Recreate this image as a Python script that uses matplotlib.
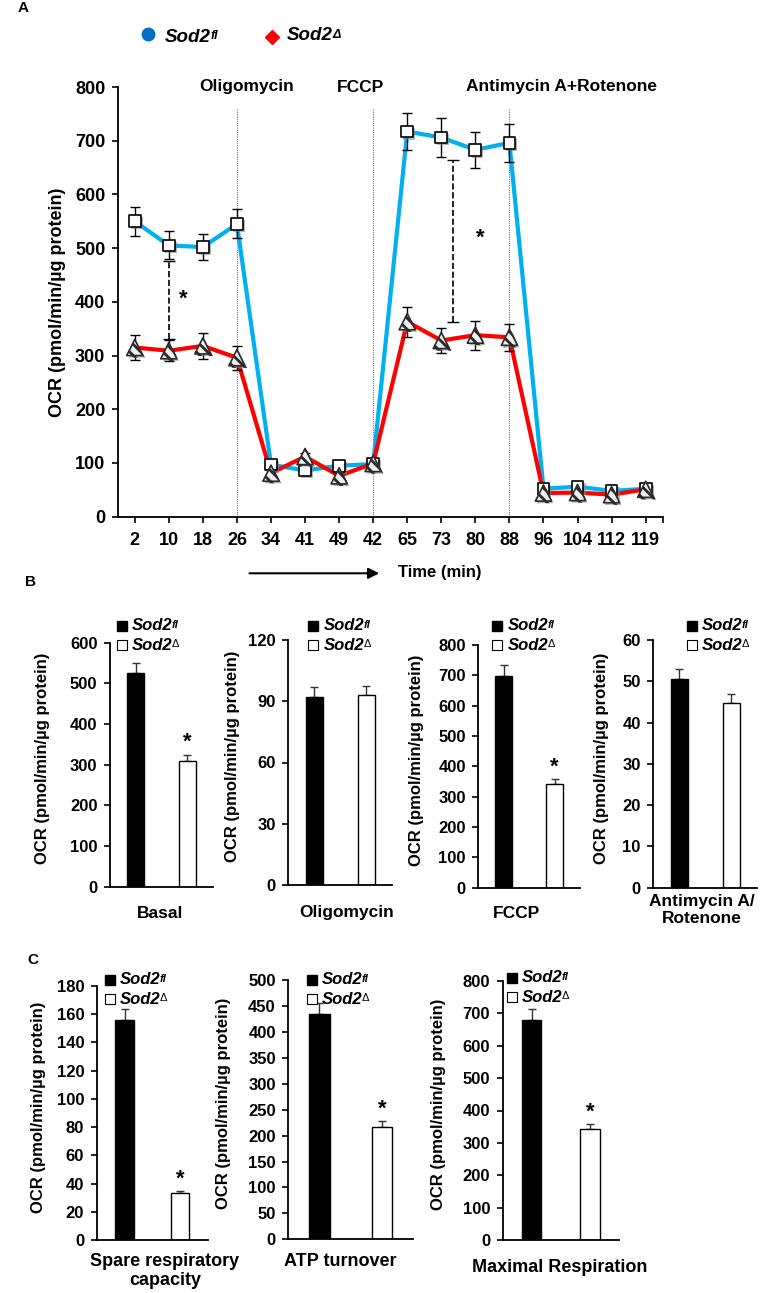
import numpy as np
import matplotlib
matplotlib.use("Agg")
import matplotlib.pyplot as plt
import matplotlib.patheffects as pe

plt.rcParams["font.family"] = ["Liberation Sans", "DejaVu Sans"]
plt.rcParams["font.weight"] = "bold"
plt.rcParams["hatch.linewidth"] = 2.0

# ---- data: panel A (OCR time course) ----
time_labels = ["2", "10", "18", "26", "34", "41", "49", "42",
               "65", "73", "80", "88", "96", "104", "112", "119"]
fl_mean = [550, 505, 502, 545, 97, 86, 95, 98, 717, 706, 683, 696, 52, 56, 48, 52]
fl_err = [27, 26, 25, 27, 8, 7, 6, 6, 35, 36, 33, 35, 5, 5, 4, 4]
d_mean = [315, 309, 318, 296, 81, 112, 76, 99, 363, 328, 338, 334, 44, 45, 41, 51]
d_err = [23, 20, 24, 22, 6, 7, 5, 5, 28, 24, 27, 25, 4, 4, 4, 4]
injection_idx = [3, 7, 11]
injection_names = ["Oligomycin", "FCCP", "Antimycin A+Rotenone"]
sig_x = [1, 9.35]
sig_lo = [331, 362]
sig_hi = [476, 664]
star_x = [1.43, 10.14]
star_y = [404, 519]

# ---- data: panels B and C (bars: Sod2fl, Sod2delta) ----
basal = [526, 310];         basal_err = [25, 15]
oligo = [92.2, 93.0];       oligo_err = [4.6, 4.5]
fccp = [699, 342];          fccp_err = [35, 16]
aarot = [50.5, 44.7];       aarot_err = [2.5, 2.2]
spare = [155.9, 33.1];      spare_err = [7.6, 1.6]
atp = [434, 217];           atp_err = [21, 10.5]
maximal = [680, 342];       maximal_err = [34, 16]

W, H = 777, 1293
fig = plt.figure(figsize=(W / 100, H / 100), dpi=100)


def add_axes_px(l, t, r, b):
    return fig.add_axes([l / W, 1 - b / H, (r - l) / W, (b - t) / H])


def style_axes(ax, labelsize):
    for s in ["top", "right"]:
        ax.spines[s].set_visible(False)
    for s in ["left", "bottom"]:
        ax.spines[s].set_linewidth(1.3)
    ax.tick_params(direction="out", length=4, width=1.2, labelsize=labelsize, pad=5)


# ---- panel A ----
ax = add_axes_px(117.7, 87, 662.7, 516.7)
x = np.arange(len(time_labels))
shadow = [pe.SimplePatchShadow(offset=(1.5, -1.5), shadow_rgbFace="#888888", alpha=0.6), pe.Normal()]
ax.plot(x, fl_mean, color="#00B0F0", lw=3, zorder=2)
ax.plot(x, d_mean, color="#FF0000", lw=3, zorder=3)
ax.errorbar(x, fl_mean, yerr=fl_err, fmt="none", ecolor="black", elinewidth=1, capsize=3.5, zorder=4)
ax.errorbar(x, d_mean, yerr=d_err, fmt="none", ecolor="black", elinewidth=1, capsize=3.5, zorder=4)
ax.scatter(x, fl_mean, marker="s", s=72, facecolor="white", edgecolor="black",
           linewidth=1.2, zorder=5, path_effects=shadow)
ax.scatter(x, d_mean, marker="^", s=135, facecolor="#eeeeee", edgecolor="#2a2a2a",
           hatch="\\\\\\", linewidth=1.2, zorder=6, path_effects=shadow)
ax.vlines(injection_idx, 0, 760, color="#777777", lw=0.8, linestyle=(0, (1, 1)), zorder=1)
for xs, lo, hi in zip(sig_x, sig_lo, sig_hi):
    eb = ax.errorbar([xs], [(lo + hi) / 2], yerr=[(hi - lo) / 2], fmt="none",
                     ecolor="black", elinewidth=1.2, capsize=4, zorder=4)
    eb[2][0].set_linestyle("--")
for sx, sy in zip(star_x, star_y):
    ax.text(sx, sy, "*", fontsize=16, ha="center", va="center")
ax.set_xlim(-0.5, len(time_labels) - 0.5)
ax.set_ylim(0, 800)
ax.set_yticks(range(0, 801, 100))
ax.set_xticks(x)
ax.set_xticklabels(time_labels)
ax.set_xticks([len(time_labels) - 0.5], minor=True)
style_axes(ax, 13)
ax.tick_params(axis="x", which="both", length=4, width=1.2, pad=7)

# overlay for free text, drawn above every panel
ax0 = fig.add_axes([0, 0, 1, 1])
ax0.set_xlim(0, W)
ax0.set_ylim(H, 0)
ax0.axis("off")
ax0.set_zorder(10)


def sod2(xp, yp, sup, size, sup_size, sup_style="italic", sup_weight="bold"):
    t = ax0.text(xp, yp, "Sod2", fontsize=size, fontstyle="italic", va="center", ha="left")
    ax0.annotate(sup, xy=(1, 1), xycoords=t, xytext=(-0.5, -1), textcoords="offset points",
                 fontsize=sup_size, fontstyle=sup_style, fontweight=sup_weight, va="top", ha="left")


ax0.text(23, 8, "A", fontsize=11, ha="center", va="center")
ax0.text(30, 582, "B", fontsize=11, ha="center", va="center")
ax0.text(33, 960, "C", fontsize=11, ha="center", va="center")

ax0.plot(148, 34, marker="o", ms=9, color="#0070C0", ls="none")
sod2(165, 37, "fl", 13.5, 9)
ax0.plot(272, 37, marker="D", ms=7, color="#FF0000", ls="none")
sod2(287, 36, "\u0394", 13.5, 9)

for name, cx in zip(injection_names, [246.7, 360, 561.7]):
    ax0.text(cx, 87, name, fontsize=12.5, ha="center", va="center")
ax0.text(57, 302, "OCR (pmol/min/\u00b5g protein)", rotation=90, fontsize=13, ha="center", va="center")
ax0.annotate("", xy=(382, 573.3), xytext=(246.7, 573.3),
             arrowprops=dict(arrowstyle="-|>", color="black", lw=1.5, mutation_scale=16))
ax0.text(440, 573, "Time (min)", fontsize=12, ha="center", va="center")


def bar_panel(rect, vals, errs, ymax, step, star, ylab_x, legend_xy, label, label_xy, label_size):
    l, t, r, b = rect
    axb = add_axes_px(l, t, r, b)
    axb.bar([0, 1], vals, width=0.33, color=["black", "white"], edgecolor="black", linewidth=1, zorder=2)
    axb.errorbar([0, 1], vals, yerr=[[0, 0], errs], fmt="none", ecolor="#333333",
                 elinewidth=1, capsize=3, zorder=1)
    if star:
        axb.annotate("*", xy=(1, vals[1] + errs[1]), xytext=(0, 1), textcoords="offset points",
                     ha="center", va="bottom", fontsize=16)
    axb.set_xlim(-0.5, 1.5)
    axb.set_ylim(0, ymax)
    axb.set_yticks(np.arange(0, ymax + 0.1, step))
    axb.set_xticks([])
    style_axes(axb, 12)
    ax0.text(ylab_x, (t + b) / 2 - 6, "OCR (pmol/min/\u00b5g protein)", rotation=90,
             fontsize=12, ha="center", va="center")
    lx, ly = legend_xy
    ax0.plot(lx, ly, marker="s", ms=6.5, color="black", ls="none")
    ax0.plot(lx, ly + 19, marker="s", ms=6.5, mfc="white", mec="black", mew=0.8, ls="none")
    sod2(lx + 10, ly, "fl", 12, 8)
    sod2(lx + 10, ly + 19, "\u0394", 12, 8, sup_style="normal", sup_weight="normal")
    ax0.text(label_xy[0], label_xy[1], label, fontsize=label_size, ha="center", va="center",
             linespacing=1.15)
    return axb


bar_panel((110, 642.7, 213, 886.7), basal, basal_err, 600, 100, True, 43, (121.7, 626),
          "Basal", (160, 913), 12.5)
bar_panel((288.3, 640, 392, 885), oligo, oligo_err, 120, 30, False, 233, (313.3, 626),
          "Oligomycin", (346.7, 913), 12.5)
bar_panel((478.3, 645, 580, 887.7), fccp, fccp_err, 800, 100, True, 416.7, (497.3, 626),
          "FCCP", (516.7, 913), 12.5)
bar_panel((653.3, 640, 757, 887.7), aarot, aarot_err, 60, 10, False, 601.7, (691.7, 626),
          "Antimycin A/\nRotenone", (701.7, 910), 12.5)

bar_panel((96.7, 986, 208, 1240), spare, spare_err, 180, 20, True, 38.3, (110, 980),
          "Spare respiratory\ncapacity", (165, 1271), 13)
bar_panel((288.3, 980, 413, 1239.3), atp, atp_err, 500, 50, True, 223.3, (311.7, 980),
          "ATP turnover", (340, 1262), 13)
bar_panel((502.7, 981, 619, 1240), maximal, maximal_err, 800, 100, True, 438.3, (511.7, 978),
          "Maximal Respiration", (560, 1268), 13)

fig.savefig("out.png", dpi=100)
